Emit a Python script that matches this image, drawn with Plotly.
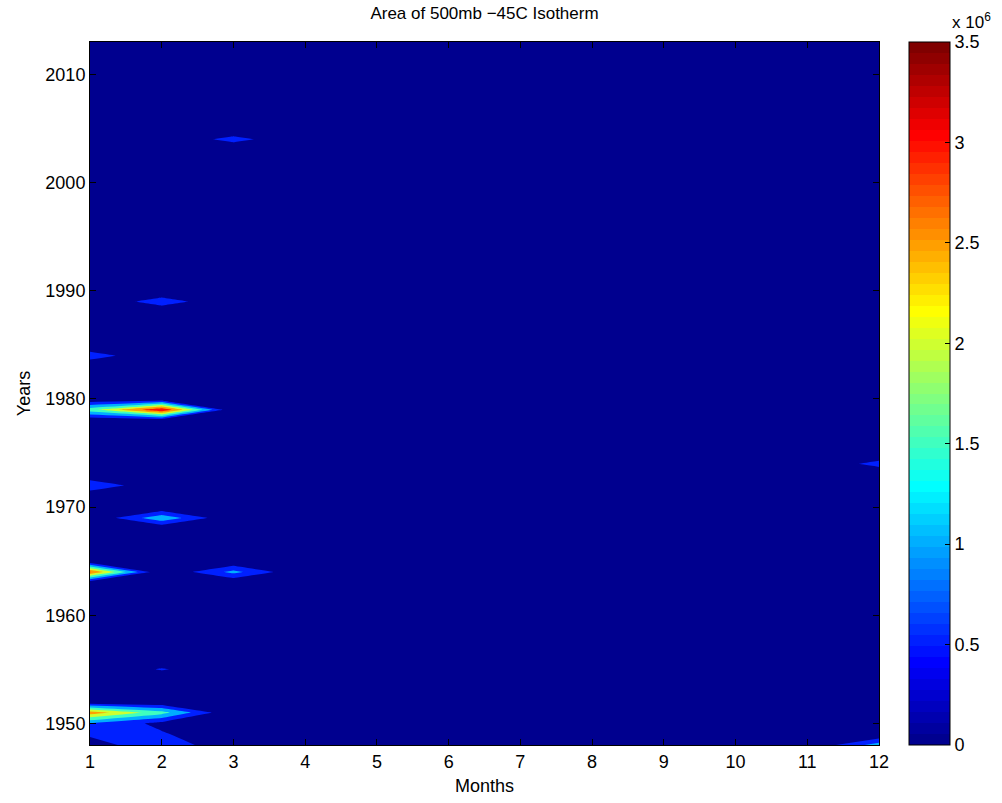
import numpy as np
import plotly.graph_objects as go

# ---------------- data ----------------
months = list(range(1, 13))
years = list(range(1948, 2014))

# Non-zero cells of the area field (km^2); all other month/year cells are 0
jan_years = [1948, 1949, 1950, 1951, 1964, 1972, 1979, 1984]
jan_values = [0.23e6, 0.60e6, 1.00e6, 2.80e6, 3.05e6, 0.95e6, 1.80e6, 0.78e6]
feb_years = [1948, 1949, 1950, 1951, 1955, 1969, 1979, 1989]
feb_values = [0.93e6, 0.57e6, 0.34e6, 1.70e6, 0.56e6, 1.38e6, 3.52e6, 0.80e6]
mar_years = [1964, 2004]
mar_values = [1.15e6, 0.70e6]
dec_years = [1948, 1974]
dec_values = [1.25e6, 0.70e6]

levels = [0.5e6, 1.0e6, 1.5e6, 2.0e6, 2.5e6, 3.0e6, 3.5e6]
cbar_ticks = [0, 0.5e6, 1.0e6, 1.5e6, 2.0e6, 2.5e6, 3.0e6, 3.5e6]
cbar_ticktext = ["0", "0.5", "1", "1.5", "2", "2.5", "3", "3.5"]
x_ticks = months
y_ticks = [1950, 1960, 1970, 1980, 1990, 2000, 2010]

# ---------------- grid ----------------
z = np.zeros((len(years), len(months)))
for m, ys, vs in [(1, jan_years, jan_values), (2, feb_years, feb_values),
                  (3, mar_years, mar_values), (12, dec_years, dec_values)]:
    for y, v in zip(ys, vs):
        z[years.index(y), m - 1] = v


# ---------------- MATLAB jet(64) ----------------
def matlab_jet(m=64):
    n = int(np.ceil(m / 4))
    u = np.concatenate([np.arange(1, n + 1) / n, np.ones(n - 1), np.arange(n, 0, -1) / n])
    g = int(np.ceil(n / 2)) - (1 if m % 4 == 1 else 0) + np.arange(1, len(u) + 1)
    r = g + n
    b = g - n
    g = g[g <= m]
    r = r[r <= m]
    b = b[b >= 1]
    J = np.zeros((m, 3))
    J[r - 1, 0] = u[:len(r)]
    J[g - 1, 1] = u[:len(g)]
    J[b - 1, 2] = u[len(u) - len(b):]
    return J


jet = matlab_jet(64)


def rgb(c):
    return "rgb(%d,%d,%d)" % tuple(int(round(v * 255)) for v in c)


# stepped 64-colour scale for the colour bar
jet_cs = []
for i, c in enumerate(jet):
    jet_cs.append([i / 64, rgb(c)])
    jet_cs.append([(i + 1) / 64, rgb(c)])

# contour fill colours: region above a level gets colour of the level
cmax = 3.5e6
band_vals = [0.0] + levels
nb = len(band_vals)
contour_cs = []
for k, L in enumerate(band_vals):
    idx = min(63, int(np.floor(L / cmax * 64)))
    lo = max(0.0, (k - 0.5) / (nb - 1))
    hi = min(1.0, (k + 0.5) / (nb - 1))
    contour_cs.append([lo, rgb(jet[idx])])
    contour_cs.append([hi, rgb(jet[idx])])

FONT = "Liberation Sans, Arial, Helvetica, sans-serif"
FS = 18

fig = go.Figure()
fig.add_trace(go.Contour(
    x=months, y=years, z=z,
    autocontour=False,
    contours=dict(start=levels[0], end=levels[-1], size=levels[1] - levels[0],
                  coloring="fill", showlines=False),
    line=dict(width=0, smoothing=0),
    colorscale=contour_cs,
    showscale=False,
    hoverinfo="x+y+z",
))

fig.add_trace(go.Scatter(
    x=[1], y=[1948], mode="markers",
    marker=dict(size=1, opacity=0, color=[0], colorscale=jet_cs, cmin=0, cmax=cmax,
                showscale=True,
                colorbar=dict(
                    x=(909 - 90) / 789, xanchor="left", xref="paper",
                    y=0.5, yanchor="middle", len=1, lenmode="fraction",
                    thickness=41, thicknessmode="pixels",
                    xpad=0, ypad=0,
                    outlinewidth=1, outlinecolor="black",
                    tickvals=cbar_ticks, ticktext=cbar_ticktext,
                    ticks="inside", ticklen=5, tickcolor="black",
                    tickfont=dict(family=FONT, size=FS, color="black"),
                )),
    hoverinfo="skip", showlegend=False,
))

fig.update_layout(
    width=1002, height=803, autosize=False,
    margin=dict(l=90, r=123, t=42, b=58, pad=0),
    paper_bgcolor="white", plot_bgcolor="white",
    font=dict(family=FONT, size=FS, color="black"),
    title=dict(text="Area of 500mb −45C Isotherm", x=484.5 / 1002, xanchor="center",
               y=1 - 13 / 803, yanchor="middle", font=dict(family=FONT, size=17)),
    xaxis=dict(range=[1, 12], tickvals=x_ticks, ticks="inside", ticklen=6,
               mirror="ticks", showline=True, linecolor="black", linewidth=1,
               tickcolor="black", showgrid=False, zeroline=False,
               title=dict(text="Months", font=dict(size=FS), standoff=8),
               tickfont=dict(size=FS)),
    yaxis=dict(range=[1948, 2013], tickvals=y_ticks, ticks="inside", ticklen=6,
               mirror="ticks", showline=True, linecolor="black", linewidth=1,
               tickcolor="black", showgrid=False, zeroline=False,
               title=dict(text="Years", font=dict(size=FS), standoff=10),
               tickfont=dict(size=FS)),
    annotations=[dict(text="x 10<sup>6</sup>", xref="paper", yref="paper",
                      x=(950 - 90) / 789, y=(745 - 21) / 703, xanchor="left",
                      yanchor="middle", showarrow=False,
                      font=dict(family=FONT, size=17, color="black"))],
)

fig.write_html("out.html")
